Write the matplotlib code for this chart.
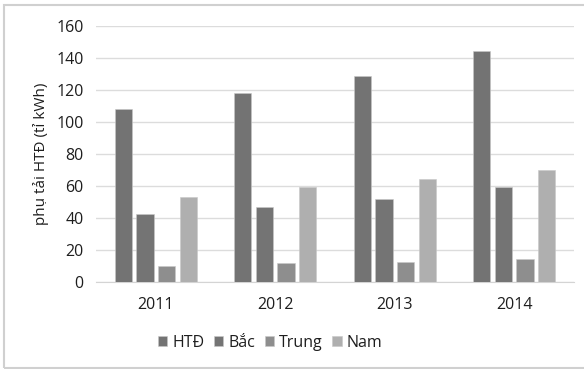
import numpy as np
import matplotlib.pyplot as plt
from matplotlib.patches import Rectangle

plt.rcParams['font.family'] = ['Open Sans', 'DejaVu Sans']

years = ['2011', '2012', '2013', '2014']
series_names = ['HTĐ', 'Bắc', 'Trung', 'Nam']
htd = [108, 118.3, 128.8, 144.4]
bac = [42.5, 47, 51.7, 59.4]
trung = [10, 11.7, 12.7, 14.2]
nam = [53.3, 59.6, 64.4, 70]
colors = ['#737373', '#747474', '#8e8e8e', '#afafaf']
txt = '#1e1e1e'

fig = plt.figure(figsize=(5.84, 3.69), dpi=100)
ax = fig.add_axes([96 / 584, 1 - 282 / 369, 478 / 584, 256 / 369])

x = np.arange(len(years))
step = 0.181
width = 0.145
for i, (vals, name) in enumerate(zip([htd, bac, trung, nam], series_names)):
    ax.bar(x + (i - 1.5) * step, vals, width, color=colors[i], label=name,
           edgecolor='#c8c8c8', linewidth=0.4, zorder=3)

ax.set_xlim(-0.5, 3.5)
ax.set_ylim(0, 160)
ax.set_yticks(range(0, 161, 20))
ax.set_xticks(x)
ax.set_xticklabels(years)
ax.grid(axis='y', color='#dcdcdc', linewidth=1.0, zorder=0)
for s in ['top', 'right', 'left']:
    ax.spines[s].set_visible(False)
ax.spines['bottom'].set_color('#d4d4d4')
ax.tick_params(axis='both', length=0, labelsize=11.5, colors=txt)
ax.tick_params(axis='x', pad=11)
ax.tick_params(axis='y', pad=9)
ax.set_ylabel('phụ tải HTĐ (tỉ kWh)', fontsize=11, color=txt, labelpad=5)

fig.legend(loc='center', bbox_to_anchor=(270 / 584, 1 - 343 / 369), ncol=4,
           frameon=False, fontsize=11.5, handlelength=0.6, handleheight=0.6,
           handletextpad=0.3, columnspacing=0.6, labelcolor=txt)

fig.patches.append(Rectangle((4 / 584, 1 - 368 / 369), 1.0, 363 / 369,
                             transform=fig.transFigure, fill=False,
                             edgecolor='#d0d0d0', linewidth=1.5))

fig.savefig('out.png', dpi=100)
